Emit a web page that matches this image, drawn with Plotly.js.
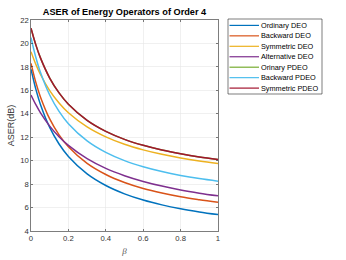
<!DOCTYPE html>
<html>
<head>
<meta charset="utf-8">
<script src="https://cdn.plot.ly/plotly-3.0.1.min.js"></script>
<style>html,body{margin:0;padding:0;background:#fff;}#chart{width:346px;height:260px;}</style>
</head>
<body>
<div id="chart"></div>
<script>
// ---- Data ----
const beta = [0, 0.025, 0.05, 0.1, 0.15, 0.2, 0.3, 0.4, 0.5, 0.6, 0.7, 0.8, 0.9, 1];
const ordinaryDEO    = [17.80, 16.15, 14.82, 12.84, 11.42, 10.36, 8.87, 7.88, 7.17, 6.64, 6.23, 5.90, 5.63, 5.40];
const backwardDEO    = [18.30, 16.72, 15.46, 13.56, 12.20, 11.19, 9.77, 8.82, 8.14, 7.63, 7.24, 6.92, 6.67, 6.45];
const symmetricDEO   = [19.30, 18.25, 17.37, 15.98, 14.92, 14.09, 12.88, 12.03, 11.40, 10.92, 10.54, 10.23, 9.97, 9.75];
const alternativeDEO = [15.60, 14.80, 14.10, 12.95, 12.04, 11.30, 10.17, 9.34, 8.72, 8.23, 7.83, 7.50, 7.23, 7.00];
const ordinaryPDEO   = [21.30, 19.92, 18.79, 17.05, 15.78, 14.82, 13.44, 12.50, 11.82, 11.31, 10.91, 10.59, 10.32, 10.10];
const backwardPDEO   = [20.50, 18.87, 17.56, 15.60, 14.20, 13.15, 11.68, 10.70, 10.00, 9.48, 9.07, 8.74, 8.47, 8.25];
const symmetricPDEO  = [21.30, 19.92, 18.79, 17.05, 15.78, 14.82, 13.44, 12.50, 11.82, 11.31, 10.91, 10.59, 10.32, 10.10];

const seriesNames = ["Ordinary DEO", "Backward DEO", "Symmetric DEO", "Alternative DEO",
                     "Orinary PDEO", "Backward PDEO", "Symmetric PDEO"];
const seriesValues = [ordinaryDEO, backwardDEO, symmetricDEO, alternativeDEO,
                      ordinaryPDEO, backwardPDEO, symmetricPDEO];
const seriesColors = ["#0072BD", "#D95319", "#EDB120", "#7E2F8E", "#77AC30", "#4DBEEE", "#A2142F"];

const xTicks = [0, 0.2, 0.4, 0.6, 0.8, 1];
const xTickText = ["0", "0.2", "0.4", "0.6", "0.8", "1"];
const yTicks = [4, 6, 8, 10, 12, 14, 16, 18, 20, 22];

// ---- Layout geometry (pixels) ----
const W = 346, H = 260;
const PL = 31, PR = 218, PT = 20, PB = 231;
const px2x = p => (p - PL) / (PR - PL);
const py2y = p => (PB - p) / (PB - PT);

const traces = seriesValues.map((v, i) => ({
  x: beta, y: v, type: "scatter", mode: "lines",
  name: seriesNames[i],
  line: {color: seriesColors[i], width: 1.5, shape: "spline", smoothing: 1},
  hoverinfo: "skip"
}));

// Manual legend (matches compact MATLAB legend)
const legL = 228, legR = 322, legT = 19, legB = 94;
const entryY0 = 25.4, entryDy = 10.45;
const shapes = [{
  type: "rect", xref: "paper", yref: "paper",
  x0: px2x(legL), x1: px2x(legR), y0: py2y(legB), y1: py2y(legT),
  line: {color: "#262626", width: 0.6}, fillcolor: "#ffffff", layer: "above"
}];
const annotations = [];
seriesNames.forEach((n, i) => {
  const py = entryY0 + i * entryDy;
  shapes.push({
    type: "line", xref: "paper", yref: "paper",
    x0: px2x(229.5), x1: px2x(259), y0: py2y(py), y1: py2y(py),
    line: {color: seriesColors[i], width: 1.2}, layer: "above"
  });
  annotations.push({
    xref: "paper", yref: "paper", x: px2x(260), y: py2y(py),
    xanchor: "left", yanchor: "middle", showarrow: false,
    text: n, font: {family: "Liberation Sans, Arial, sans-serif", size: 7.3, color: "#000"},
    borderpad: 0
  });
});

const axisCommon = {
  showline: true, linecolor: "#262626", linewidth: 0.6, mirror: "ticks",
  ticks: "inside", ticklen: 2, tickwidth: 0.6, tickcolor: "#262626",
  showgrid: true, gridcolor: "#e6e6e6", gridwidth: 0.6, zeroline: false,
  tickfont: {family: "Liberation Sans, Arial, sans-serif", size: 7.7, color: "#333"},
  automargin: false, fixedrange: true
};

const layout = {
  width: W, height: H,
  margin: {l: PL, r: W - PR, t: PT, b: H - PB, pad: 0},
  paper_bgcolor: "#fff", plot_bgcolor: "#fff",
  showlegend: false,
  title: {
    text: "<b>ASER of Energy Operators of Order 4</b>",
    font: {family: "Liberation Sans, Arial, sans-serif", size: 9.2, color: "#000"},
    x: px2x(124.5) * (PR - PL) / W + PL / W, xanchor: "center",
    y: 1 - 12 / H, yanchor: "middle"
  },
  xaxis: Object.assign({}, axisCommon, {
    range: [0, 1], tickvals: xTicks, ticktext: xTickText,
    title: {text: "<i>β</i>", font: {family: "Liberation Serif, serif", size: 9, color: "#555"}, standoff: 5}
  }),
  yaxis: Object.assign({}, axisCommon, {
    range: [4, 22], tickvals: yTicks,
    title: {text: "ASER(dB)", font: {family: "Liberation Sans, Arial, sans-serif", size: 9, color: "#333"}, standoff: 3}
  }),
  shapes: shapes,
  annotations: annotations
};

Plotly.newPlot("chart", traces, layout, {displayModeBar: false, staticPlot: true});
</script>
</body>
</html>
